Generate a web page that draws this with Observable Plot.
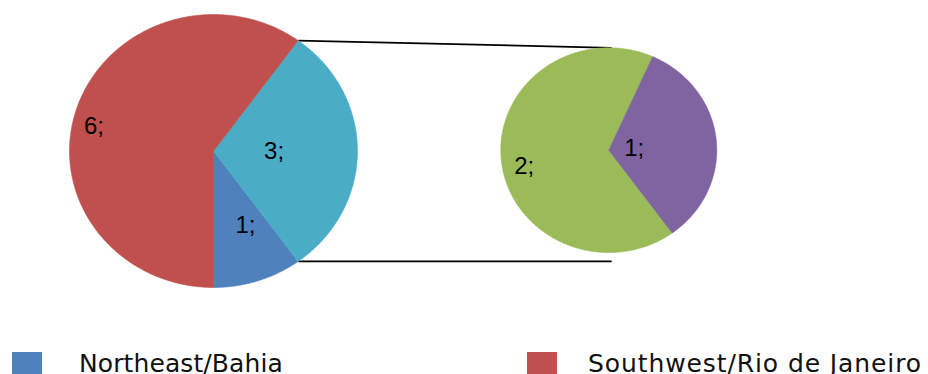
<!DOCTYPE html>
<html><head><meta charset="utf-8">
<script src="https://cdn.jsdelivr.net/npm/d3@7"></script>
<script src="https://cdn.jsdelivr.net/npm/@observablehq/plot@0.6"></script>
<style>
body{margin:0;background:#fff;width:928px;height:374px;overflow:hidden}
#legend{position:relative;height:34px;width:928px;font-family:"DejaVu Sans",Verdana,sans-serif;font-size:25px;color:#111}
.sw{position:absolute;width:30px;height:30px}
.lt{position:absolute;line-height:25px;white-space:nowrap}
</style></head><body>
<div id="chart"></div><div id="legend"></div>
<script>
// ---- data ----
const mainCategories = ["Northeast/Bahia", "Other", "Southwest/Rio de Janeiro"];
const mainValues = [1, 3, 6];
const mainColors = ["#4F81BD", "#4BACC6", "#C0504D"];
const secondaryCategories = ["Other A", "Other B"];
const secondaryValues = [2, 1];
const secondaryColors = ["#9BBB59", "#8064A2"];
const legendCategories = ["Northeast/Bahia", "Southwest/Rio de Janeiro"];
const legendColors = ["#4F81BD", "#C0504D"];

// ---- layout ----
const W = 928, H = 340;
const CX = 213, CY = 150.5, RX = 144, RY = 136.5; // main pie in pixels
const mainPie = {cx: 0, cy: 0, r: 1, start: 180, dir: -1,
  labels: [[-4.1, 0.59], [0, 0.421], [-5.6, 0.85]]};
const secPie = {cx: 2.745, cy: 0.006, r: 0.75, start: 144, dir: 1,
  labels: [[-5.7, 0.80], [2, 0.236]]};

const rad = d => d * Math.PI / 180;
function build(pie, cats, values, colors) {
  const total = d3.sum(values);
  let a = pie.start;
  const pts = [], labels = [], bounds = [];
  values.forEach((v, i) => {
    const span = 360 * v / total;
    const a0 = a, a1 = a + pie.dir * span;
    const n = Math.ceil(span * 2);
    const key = pie.cx + "-" + cats[i];
    pts.push({x: pie.cx, y: pie.cy, key, color: colors[i]});
    for (let k = 0; k <= n; k++) {
      const t = rad(a0 + (a1 - a0) * k / n);
      pts.push({x: pie.cx + pie.r * Math.sin(t), y: pie.cy + pie.r * Math.cos(t), key, color: colors[i]});
    }
    pts.push({x: pie.cx, y: pie.cy, key, color: colors[i]});
    const [off, fr] = pie.labels[i];
    const m = rad((a0 + a1) / 2 + off);
    labels.push({x: pie.cx + fr * pie.r * Math.sin(m), y: pie.cy + fr * pie.r * Math.cos(m), text: v + ";"});
    bounds.push([a0, a1]);
    a = a1;
  });
  return {pts, labels, bounds};
}
const M = build(mainPie, mainCategories, mainValues, mainColors);
const S = build(secPie, secondaryCategories, secondaryValues, secondaryColors);

// connector lines from the exploded "Other" slice edges
const otherIdx = 1;
const [b0, b1] = M.bounds[otherIdx];
const topA = Math.min(b0, b1), botA = Math.max(b0, b1);
const conn = [
  {x1: Math.sin(rad(topA)), y1: Math.cos(rad(topA)), x2: secPie.cx + 0.02, y2: secPie.cy + secPie.r},
  {x1: Math.sin(rad(botA)), y1: Math.cos(rad(botA)), x2: secPie.cx + 0.02, y2: Math.cos(rad(botA))}
];

const chart = Plot.plot({
  width: W, height: H, margin: 0,
  x: {domain: [(0 - CX) / RX, (W - CX) / RX], axis: null},
  y: {domain: [(CY - H) / RY, CY / RY], axis: null},
  color: {type: "identity"},
  style: {background: "white"},
  marks: [
    Plot.link(conn, {x1: "x1", y1: "y1", x2: "x2", y2: "y2", stroke: "black", strokeWidth: 1.8}),
    Plot.line(M.pts, {x: "x", y: "y", z: "key", fill: "color", stroke: "color", strokeWidth: 0.6, curve: "linear"}),
    Plot.line(S.pts, {x: "x", y: "y", z: "key", fill: "color", stroke: "color", strokeWidth: 0.6, curve: "linear"}),
    Plot.text([...M.labels, ...S.labels], {x: "x", y: "y", text: "text", fontSize: 24,
      fontFamily: "'Liberation Sans', Arial, sans-serif", fill: "black"})
  ]
});
document.getElementById("chart").appendChild(chart);

// legend
const swX = [12, 527], txX = [79, 588], spacing = [0.1, 0.9];
const lg = d3.select("#legend");
legendCategories.forEach((c, i) => {
  lg.append("div").attr("class", "sw").style("left", swX[i] + "px").style("top", "11.7px").style("background", legendColors[i]);
  lg.append("span").attr("class", "lt").style("left", txX[i] + "px").style("top", "10.5px")
    .style("letter-spacing", spacing[i] + "px").text(c);
});
</script>
</body></html>
